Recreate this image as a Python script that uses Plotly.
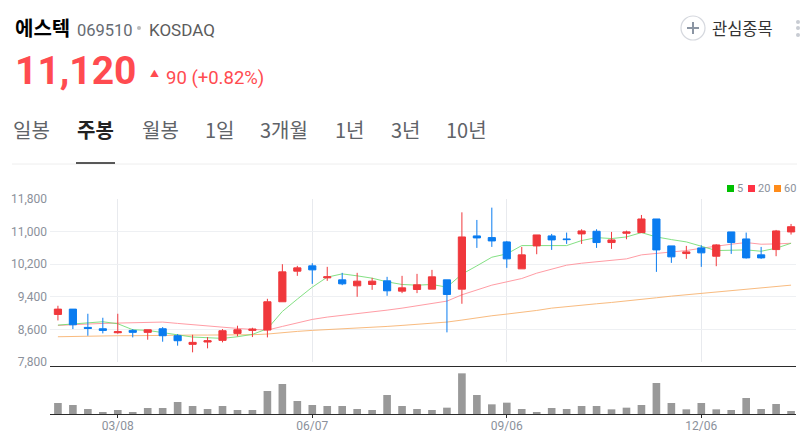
import plotly.graph_objects as go

# weekly candles, 02/08 .. 01/17
weeks = ["02/08","02/15","02/22","03/01","03/08","03/15","03/22","03/29","04/05","04/12",
         "04/19","04/26","05/03","05/10","05/17","05/24","05/31","06/07","06/14","06/21",
         "06/28","07/05","07/12","07/19","07/26","08/02","08/09","08/16","08/23","08/30",
         "09/06","09/13","09/20","09/27","10/04","10/11","10/18","10/25","11/01","11/08",
         "11/15","11/22","11/29","12/06","12/13","12/20","12/27","01/03","01/10","01/17"]

opens = [8967,9098,8649,8616,8518,8576,8527,8616,8445,8233,
         8290,8331,8502,8576,8584,9278,10029,10159,9865,9816,
         9669,9702,9792,9539,9580,9588,9816,9588,10894,10853,
         10747,10086,10649,10894,10820,10943,11008,10731,10959,10976,
         11310,10649,10461,10600,10396,10992,10820,10429,10559,10992]
closes = [9098,8714,8625,8576,8543,8527,8592,8445,8322,8282,
          8322,8567,8592,8608,9278,10012,10110,10061,9890,9718,
          9784,9784,9547,9620,9694,9890,9457,10869,10845,10771,
          10331,10429,10918,10796,10804,11016,10731,10796,10992,11310,
          10551,10380,10502,10478,10673,10731,10355,10355,11016,11120]
highs = [9180,9098,8984,8886,8984,8608,8592,8657,8486,8469,
         8412,8608,8690,8641,9351,10200,10159,10224,10135,9988,
         9988,9865,9890,9914,9963,10061,9816,11473,11286,11588,
         10771,10624,10918,10943,10976,11057,11057,10992,11024,11408,
         11310,10649,10649,10665,10690,10992,10976,10624,11041,11188]
lows = [8820,8608,8445,8502,8494,8404,8347,8298,8200,8037,
        8135,8282,8429,8412,8404,9278,9914,9718,9792,9686,
        9400,9571,9424,9490,9490,9588,8527,9229,10600,10624,
        10110,10086,10445,10551,10698,10698,10600,10576,10812,10976,
        10012,10233,10331,10135,10151,10453,10339,10331,10396,10927]

ma5 = [8706,8731,8771,8788,8739,8592,8576,8527,8478,8412,
       8396,8380,8420,8478,8616,9041,9343,9637,9882,9963,
       9914,9857,9767,9702,9686,9702,9637,9955,10159,10371,
       10453,10657,10657,10657,10657,10780,10853,10829,10869,10976,
       10869,10804,10747,10641,10535,10543,10551,10518,10592,10714]
ma20 = [8698,8722,8731,8747,8755,8763,8771,8780,8747,8714,
        8673,8641,8624,8600,8584,8673,8755,8845,8902,8943,
        8976,9024,9073,9122,9180,9245,9294,9449,9571,9686,
        9767,9849,9980,10078,10176,10224,10257,10290,10331,10429,
        10461,10494,10535,10592,10649,10690,10731,10690,10698,10714]
ma60 = [8420,8429,8437,8445,8445,8445,8453,8453,8461,8461,
        8461,8461,8461,8469,8486,8527,8551,8576,8592,8616,
        8633,8649,8673,8698,8722,8747,8780,8829,8886,8935,
        8976,9016,9065,9122,9163,9204,9229,9261,9294,9335,
        9376,9416,9449,9482,9514,9547,9580,9612,9653,9686]

volume = [33,27,15,6,12,6,18,18,36,24,
          15,24,12,12,69,90,39,27,24,24,
          15,12,57,24,15,12,19,122,57,29,
          34,15,6,18,15,24,24,14,19,27,
          93,33,14,33,14,12,48,15,30,9]

price_ticks = [7800,8600,9400,10200,11000,11800]
price_labels = ["7,800","8,600","9,400","10,200","11,000","11,800"]
date_ticks = ["03/08","06/07","09/06","12/06"]

KR = '"Noto Sans CJK KR", sans-serif'
RED = "#f0383c"
BLUE = "#0a7cf0"
W, H = 807, 434


def px(x):
    return x / W


def py(y):
    return 1 - y / H


fig = go.Figure()

# moving averages sit under the candles
for vals, col in [(ma60, "#f8b06a"), (ma20, "#ff8c96"), (ma5, "#6fdc6f")]:
    fig.add_trace(go.Scatter(x=weeks, y=vals, mode="lines", xaxis="x", yaxis="y",
                             line=dict(color=col, width=1), opacity=0.85))

fig.add_trace(go.Candlestick(
    x=weeks, open=opens, high=highs, low=lows, close=closes,
    xaxis="x", yaxis="y3", whiskerwidth=0,
    increasing=dict(line=dict(color=RED, width=1), fillcolor=RED),
    decreasing=dict(line=dict(color=BLUE, width=1), fillcolor=BLUE),
))

fig.add_trace(go.Bar(x=weeks, y=volume, xaxis="x2", yaxis="y2",
                     marker=dict(color="#999999", line=dict(width=0))))

xrange = [-0.53, 49.33]
yrange = [7800, 11800]

fig.update_layout(
    width=W, height=H, autosize=False,
    margin=dict(l=0, r=0, t=0, b=0),
    paper_bgcolor="white", plot_bgcolor="white",
    showlegend=False, bargap=0.49, boxgap=0.52, boxgroupgap=0,
    font=dict(family=KR),
    xaxis=dict(type="category", categoryorder="array", categoryarray=weeks,
               domain=[px(50), px(796)], anchor="y", range=xrange, automargin=False,
               tickmode="array", tickvals=date_ticks, showticklabels=False,
               showgrid=True, gridcolor="#e8eaee", gridwidth=1, ticks="",
               zeroline=False, rangeslider=dict(visible=False)),
    yaxis=dict(domain=[py(362), py(199)], anchor="x", range=yrange, automargin=False,
               tickmode="array", tickvals=price_ticks, ticktext=price_labels,
               showgrid=True, gridcolor="#eef0f3", gridwidth=1, zeroline=False,
               ticks="", ticklabelstandoff=2,
               tickfont=dict(family="Roboto, sans-serif", size=12, color="#8b919b")),
    yaxis3=dict(overlaying="y", anchor="x", range=yrange, visible=False, automargin=False),
    xaxis2=dict(type="category", categoryorder="array", categoryarray=weeks,
                domain=[px(50), px(796)], anchor="y2", range=xrange, automargin=False,
                tickmode="array", tickvals=date_ticks, ticktext=date_ticks,
                showgrid=False, showline=True, mirror=True, linecolor="#2b2b2b",
                linewidth=1, ticks="outside", ticklen=3, tickcolor="#2b2b2b",
                ticklabelstandoff=-2,
                tickfont=dict(family="Roboto, sans-serif", size=12, color="#8b919b")),
    yaxis2=dict(domain=[py(414), py(367)], anchor="x2", range=[0, 141],
                visible=False, automargin=False),
)


def label(x, y, text, size, color, bold=False, family=KR, anchor="left"):
    if bold:
        text = "<b>" + text + "</b>"
    fig.add_annotation(x=px(x), y=py(y), xref="paper", yref="paper", text=text,
                       showarrow=False, xanchor=anchor, yanchor="middle",
                       font=dict(family=family, size=size, color=color),
                       borderpad=0, borderwidth=0)


ROBOTO = "Roboto, sans-serif"

# header
label(15, 27, "에스텍", 20, "#000000", bold=True)
label(77, 30, "069510", 16.5, "#666b73", family=ROBOTO)
label(149, 30, "KOSDAQ", 17, "#5c5c5c", family=ROBOTO)
label(15, 71, "11,120", 39, "#ff4b50", bold=True, family=ROBOTO)
label(150, 73, "▲", 9, "#ff4b50")
label(166, 78, "90 (+0.82%)", 18.5, "#ff4b50", family=ROBOTO)
label(712, 28, "관심종목", 16.5, "#333333")

# period tabs
for x, t, b in [(13, "일봉", False), (77, "주봉", True), (142, "월봉", False),
                (205, "1일", False), (260, "3개월", False), (335, "1년", False),
                (391, "3년", False), (446, "10년", False)]:
    label(x, 130, t, 20, "#222222" if b else "#5f6368", bold=b)

# MA legend
for x, t, col in [(737, "5", "#00c000"), (758, "20", "#ff3344"), (784, "60", "#ff8c1a")]:
    label(x, 188, t, 11, "#8b919b", family=ROBOTO)
    fig.add_shape(type="rect", xref="paper", yref="paper", x0=px(x - 10), x1=px(x - 3),
                  y0=py(192), y1=py(185), fillcolor=col, line=dict(width=0))

# header decoration
shapes = [
    dict(type="line", x0=12, x1=797, y0=164, y1=164, line=dict(color="#eeeeee", width=1)),
    dict(type="line", x0=76, x1=115, y0=163, y1=163, line=dict(color="#222222", width=1.5)),
    dict(type="circle", x0=681, x1=705, y0=16, y1=40, line=dict(color="#d5d8de", width=1.2)),
    dict(type="line", x0=687, x1=699, y0=28, y1=28, line=dict(color="#8b95a3", width=2)),
    dict(type="line", x0=693, x1=693, y0=22, y1=34, line=dict(color="#8b95a3", width=2)),
    dict(type="circle", x0=137, x1=141, y0=26, y1=30, fillcolor="#bbbbbb", line=dict(width=0)),
]
for cy in (22, 28, 35):
    shapes.append(dict(type="circle", x0=796, x1=800, y0=cy - 2, y1=cy + 2,
                       fillcolor="#c8ccd3", line=dict(width=0)))
for s in shapes:
    s.update(xref="paper", yref="paper", x0=px(s["x0"]), x1=px(s["x1"]),
             y0=py(s["y0"]), y1=py(s["y1"]))
    fig.add_shape(**s)

fig.write_html("out.html", config=dict(displayModeBar=False),
               post_script="document.body.style.margin='0';")
